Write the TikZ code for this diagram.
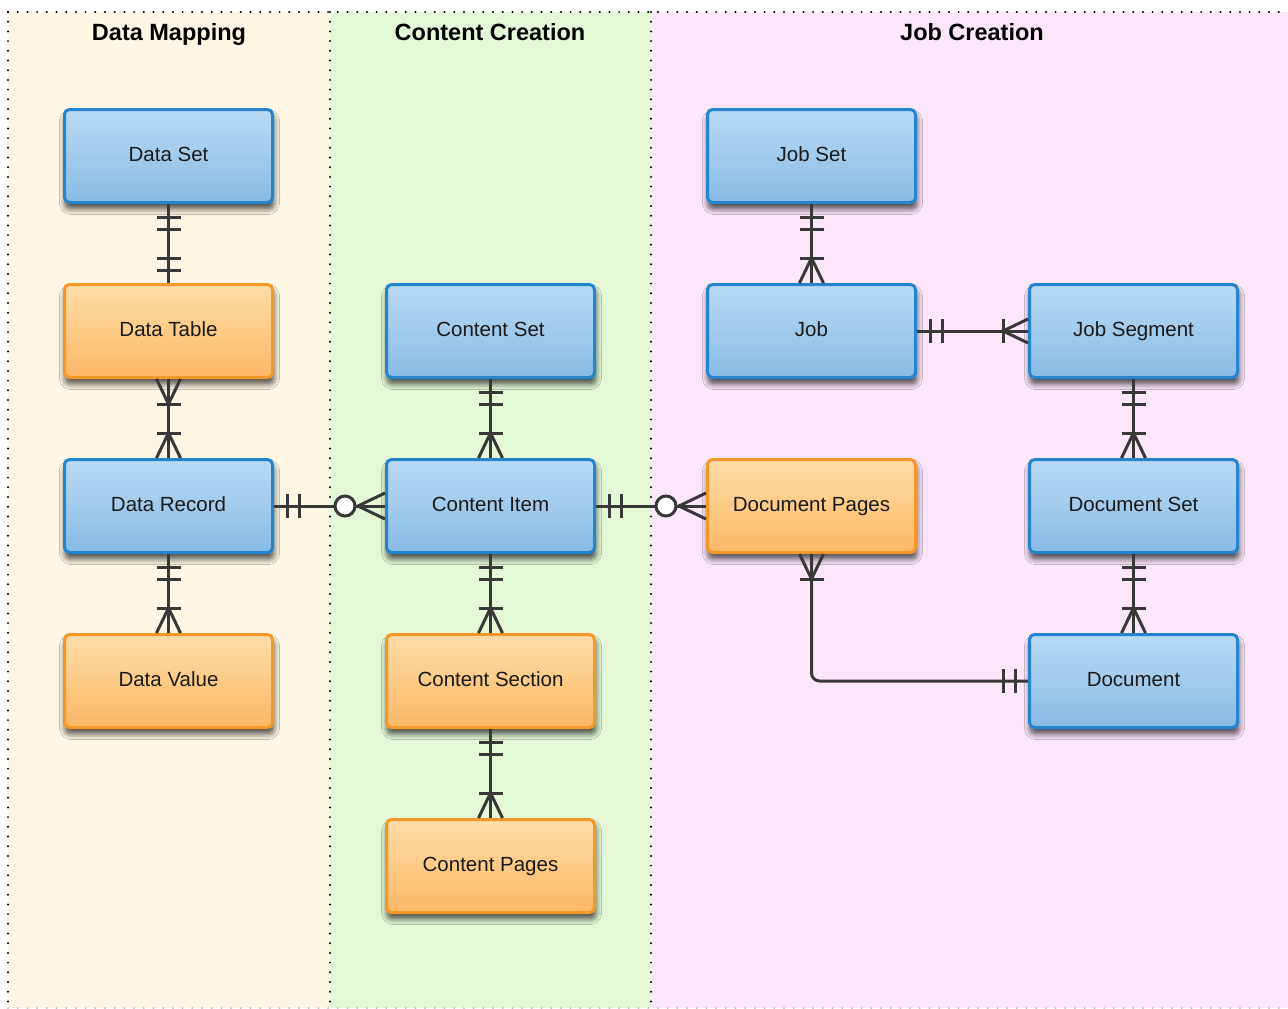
\documentclass[tikz,border=0pt]{standalone}
\usepackage{fontspec}
\setmainfont{Liberation Sans}
\usetikzlibrary{shadows.blur}
\definecolor{laneA}{HTML}{FDF6E4}
\definecolor{laneB}{HTML}{E4F8D8}
\definecolor{laneC}{HTML}{FCE6FA}
\definecolor{blueTop}{HTML}{B9DAF4}
\definecolor{blueBot}{HTML}{88BBE5}
\definecolor{blueLine}{HTML}{2585CC}
\definecolor{orTop}{HTML}{FEDDA8}
\definecolor{orBot}{HTML}{FCB866}
\definecolor{orLine}{HTML}{F4982A}
\definecolor{linec}{HTML}{383838}
\definecolor{txt}{HTML}{1A1A1A}
\tikzset{
  entity/.style={rounded corners=5pt, line width=3pt, minimum width=208pt,
    minimum height=93pt, font=\fontsize{20.5}{24}\selectfont, text=txt,
    text height=15pt, text depth=4.5pt,
    blur shadow={shadow xshift=1pt, shadow yshift=-6pt, shadow blur steps=10,
      shadow opacity=75, shadow blur radius=6pt, shadow blur extra rounding=4pt}},
  bluebox/.style={entity, draw=blueLine, top color=blueTop, bottom color=blueBot},
  orangebox/.style={entity, draw=orLine, top color=orTop, bottom color=orBot},
  lanetitle/.style={font=\bfseries\fontsize{23.5}{28}\selectfont, text=black,
    text height=17pt, text depth=5pt},
  erline/.style={draw=linec, line width=3pt},
  lanedots/.style={draw=black, line width=2.2pt, line cap=round,
    dash pattern=on 0pt off 9.7pt},
  pics/onlyone/.style={code={
    \draw[erline] (13,-12)--(13,12) (25,-12)--(25,12);}},
  pics/onemany/.style={code={
    \draw[erline] (25,-12)--(25,12);
    \draw[erline, line join=miter] (0,-12)--(25,0)--(0,12);}},
  pics/zeromany/.style={code={
    \draw[erline, line join=miter] (0,-13)--(27,0)--(0,13);
    \draw[erline, fill=white] (40,0) circle[radius=10pt];}},
}
\begin{document}
\begin{tikzpicture}[x=1pt, y=-1pt]
\useasboundingbox (0,0) rectangle (1288,1009);
% swimlanes
\fill[laneA] (8,12) rectangle (330,1008);
\fill[laneB] (330,12) rectangle (651,1008);
\fill[laneC] (651,12) rectangle (1288,1008);
\draw[lanedots] (8,12) -- (1288,12);
\draw[lanedots] (8,12) -- (8,1008);
\draw[lanedots] (330,12) -- (330,1008);
\draw[lanedots] (651,12) -- (651,1008);
\draw[lanedots, draw=black!25] (8,1008) -- (1288,1008);
\node[lanetitle] (tA) at (169,34) {Data Mapping};
\node[lanetitle] (tB) at (490,34) {Content Creation};
\node[lanetitle] (tC) at (972,34) {Job Creation};

% entities
\node[bluebox]   (ds)   at (168.5,156) {Data Set};
\node[orangebox] (dt)   at (168.5,331) {Data Table};
\node[bluebox]   (dr)   at (168.5,506) {Data Record};
\node[orangebox] (dv)   at (168.5,681) {Data Value};
\node[bluebox]   (cs)   at (490.5,331) {Content Set};
\node[bluebox]   (ci)   at (490.5,506) {Content Item};
\node[orangebox] (csec) at (490.5,681) {Content Section};
\node[orangebox] (cp)   at (490.5,866) {Content Pages};
\node[bluebox]   (jset) at (811.5,156) {Job Set};
\node[bluebox]   (job)  at (811.5,331) {Job};
\node[orangebox] (dp)   at (811.5,506) {Document Pages};
\node[bluebox]   (seg)  at (1133.5,331) {Job Segment};
\node[bluebox]   (dset) at (1133.5,506) {Document Set};
\node[bluebox]   (doc)  at (1133.5,681) {Document};

% relationships
\draw[erline] (ds) -- (dt);
\pic[rotate=-90] at (ds.south) {onlyone};
\pic[rotate=90]  at (dt.north) {onlyone};

\draw[erline] (dt) -- (dr);
\pic[rotate=-90] at (dt.south) {onemany};
\pic[rotate=90]  at (dr.north) {onemany};

\draw[erline] (dr) -- (dv);
\pic[rotate=-90] at (dr.south) {onlyone};
\pic[rotate=90]  at (dv.north) {onemany};

\draw[erline] (dr) -- (ci);
\pic at (dr.east) {onlyone};
\pic[rotate=180] at (ci.west) {zeromany};

\draw[erline] (cs) -- (ci);
\pic[rotate=-90] at (cs.south) {onlyone};
\pic[rotate=90]  at (ci.north) {onemany};

\draw[erline] (ci) -- (csec);
\pic[rotate=-90] at (ci.south) {onlyone};
\pic[rotate=90]  at (csec.north) {onemany};

\draw[erline] (csec) -- (cp);
\pic[rotate=-90] at (csec.south) {onlyone};
\pic[rotate=90]  at (cp.north) {onemany};

\draw[erline] (ci) -- (dp);
\pic at (ci.east) {onlyone};
\pic[rotate=180] at (dp.west) {zeromany};

\draw[erline] (jset) -- (job);
\pic[rotate=-90] at (jset.south) {onlyone};
\pic[rotate=90]  at (job.north) {onemany};

\draw[erline] (job) -- (seg);
\pic at (job.east) {onlyone};
\pic[rotate=180] at (seg.west) {onemany};

\draw[erline] (seg) -- (dset);
\pic[rotate=-90] at (seg.south) {onlyone};
\pic[rotate=90]  at (dset.north) {onemany};

\draw[erline] (dset) -- (doc);
\pic[rotate=-90] at (dset.south) {onlyone};
\pic[rotate=90]  at (doc.north) {onemany};

\draw[erline, rounded corners=8pt] (doc.west) -| (dp.south);
\pic[rotate=180] at (doc.west) {onlyone};
\pic[rotate=-90] at (dp.south) {onemany};
\end{tikzpicture}
\end{document}
